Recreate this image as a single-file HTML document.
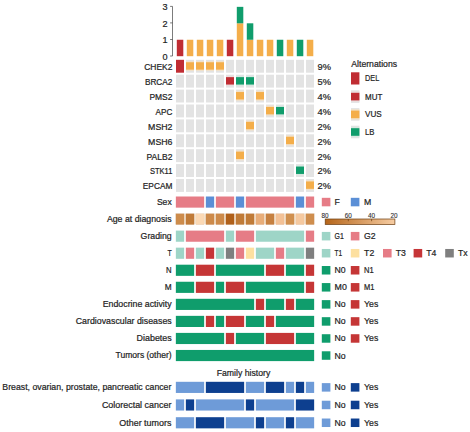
<!DOCTYPE html>
<html><head><meta charset="utf-8"><title>Oncoplot</title>
<style>
html,body{margin:0;padding:0;background:#fff;}
svg{display:block;font-family:"Liberation Sans",sans-serif;}
text{stroke:#1f1f1f;stroke-width:0.22px;}
</style></head>
<body>
<svg width="470" height="432" viewBox="0 0 470 432">
<rect x="0" y="0" width="470" height="432" fill="#ffffff"/>
<rect x="176.80" y="39.75" width="6.50" height="16.45" fill="#c02d33"/>
<rect x="186.80" y="39.75" width="6.50" height="16.45" fill="#f4ae4a"/>
<rect x="196.80" y="39.75" width="6.50" height="16.45" fill="#f4ae4a"/>
<rect x="206.80" y="39.75" width="6.50" height="16.45" fill="#f4ae4a"/>
<rect x="216.80" y="39.75" width="6.50" height="16.45" fill="#f4ae4a"/>
<rect x="226.80" y="39.75" width="6.50" height="16.45" fill="#c02d33"/>
<rect x="236.80" y="23.30" width="6.50" height="32.90" fill="#f4ae4a"/>
<rect x="236.80" y="6.85" width="6.50" height="16.45" fill="#109d6c"/>
<rect x="246.80" y="39.75" width="6.50" height="16.45" fill="#f4ae4a"/>
<rect x="246.80" y="23.30" width="6.50" height="16.45" fill="#109d6c"/>
<rect x="256.80" y="39.75" width="6.50" height="16.45" fill="#f4ae4a"/>
<rect x="266.80" y="39.75" width="6.50" height="16.45" fill="#f4ae4a"/>
<rect x="276.80" y="39.75" width="6.50" height="16.45" fill="#109d6c"/>
<rect x="286.80" y="39.75" width="6.50" height="16.45" fill="#f4ae4a"/>
<rect x="296.80" y="39.75" width="6.50" height="16.45" fill="#109d6c"/>
<rect x="306.80" y="39.75" width="6.50" height="16.45" fill="#f4ae4a"/>
<path d="M170.1,56.0 H172.5 V6.4 H170.1 M170.1,39.5 H172.5 M170.1,22.9 H172.5" fill="none" stroke="#444" stroke-width="0.7"/>
<text x="167.60" y="59.95" font-size="9.1" text-anchor="end" fill="#1f1f1f">0</text>
<text x="167.60" y="43.32" font-size="9.1" text-anchor="end" fill="#1f1f1f">1</text>
<text x="167.60" y="26.69" font-size="9.1" text-anchor="end" fill="#1f1f1f">2</text>
<text x="167.60" y="10.06" font-size="9.1" text-anchor="end" fill="#1f1f1f">3</text>
<rect x="176.00" y="59.80" width="8.00" height="12.90" fill="#c02d33"/>
<rect x="186.00" y="59.80" width="8.00" height="12.90" fill="#e3e3e3"/>
<rect x="186.00" y="60.95" width="8.00" height="10.00" fill="#f2e1c8"/>
<rect x="186.00" y="62.25" width="8.00" height="7.40" fill="#f4ae4a"/>
<rect x="196.00" y="59.80" width="8.00" height="12.90" fill="#e3e3e3"/>
<rect x="196.00" y="60.95" width="8.00" height="10.00" fill="#f2e1c8"/>
<rect x="196.00" y="62.25" width="8.00" height="7.40" fill="#f4ae4a"/>
<rect x="206.00" y="59.80" width="8.00" height="12.90" fill="#e3e3e3"/>
<rect x="206.00" y="60.95" width="8.00" height="10.00" fill="#f2e1c8"/>
<rect x="206.00" y="62.25" width="8.00" height="7.40" fill="#f4ae4a"/>
<rect x="216.00" y="59.80" width="8.00" height="12.90" fill="#e3e3e3"/>
<rect x="216.00" y="60.95" width="8.00" height="10.00" fill="#f2e1c8"/>
<rect x="216.00" y="62.25" width="8.00" height="7.40" fill="#f4ae4a"/>
<rect x="226.00" y="59.80" width="8.00" height="12.90" fill="#e3e3e3"/>
<rect x="236.00" y="59.80" width="8.00" height="12.90" fill="#e3e3e3"/>
<rect x="246.00" y="59.80" width="8.00" height="12.90" fill="#e3e3e3"/>
<rect x="256.00" y="59.80" width="8.00" height="12.90" fill="#e3e3e3"/>
<rect x="266.00" y="59.80" width="8.00" height="12.90" fill="#e3e3e3"/>
<rect x="276.00" y="59.80" width="8.00" height="12.90" fill="#e3e3e3"/>
<rect x="286.00" y="59.80" width="8.00" height="12.90" fill="#e3e3e3"/>
<rect x="296.00" y="59.80" width="8.00" height="12.90" fill="#e3e3e3"/>
<rect x="306.00" y="59.80" width="8.00" height="12.90" fill="#e3e3e3"/>
<text x="172.40" y="70.10" font-size="8.7" text-anchor="end" fill="#1f1f1f" textLength="28.20" lengthAdjust="spacingAndGlyphs">CHEK2</text>
<text x="317.60" y="70.15" font-size="9.3" text-anchor="start" fill="#1f1f1f">9%</text>
<rect x="176.00" y="74.70" width="8.00" height="12.90" fill="#e3e3e3"/>
<rect x="186.00" y="74.70" width="8.00" height="12.90" fill="#e3e3e3"/>
<rect x="196.00" y="74.70" width="8.00" height="12.90" fill="#e3e3e3"/>
<rect x="206.00" y="74.70" width="8.00" height="12.90" fill="#e3e3e3"/>
<rect x="216.00" y="74.70" width="8.00" height="12.90" fill="#e3e3e3"/>
<rect x="226.00" y="74.70" width="8.00" height="12.90" fill="#e3e3e3"/>
<rect x="226.00" y="75.85" width="8.00" height="10.00" fill="#ecdcdc"/>
<rect x="226.00" y="77.15" width="8.00" height="7.40" fill="#c02d33"/>
<rect x="236.00" y="74.70" width="8.00" height="12.90" fill="#e3e3e3"/>
<rect x="236.00" y="75.85" width="8.00" height="10.00" fill="#d6e8e0"/>
<rect x="236.00" y="77.15" width="8.00" height="7.40" fill="#109d6c"/>
<rect x="246.00" y="74.70" width="8.00" height="12.90" fill="#e3e3e3"/>
<rect x="246.00" y="75.85" width="8.00" height="10.00" fill="#d6e8e0"/>
<rect x="246.00" y="77.15" width="8.00" height="7.40" fill="#109d6c"/>
<rect x="256.00" y="74.70" width="8.00" height="12.90" fill="#e3e3e3"/>
<rect x="266.00" y="74.70" width="8.00" height="12.90" fill="#e3e3e3"/>
<rect x="276.00" y="74.70" width="8.00" height="12.90" fill="#e3e3e3"/>
<rect x="286.00" y="74.70" width="8.00" height="12.90" fill="#e3e3e3"/>
<rect x="296.00" y="74.70" width="8.00" height="12.90" fill="#e3e3e3"/>
<rect x="306.00" y="74.70" width="8.00" height="12.90" fill="#e3e3e3"/>
<text x="172.40" y="85.00" font-size="8.7" text-anchor="end" fill="#1f1f1f" textLength="27.50" lengthAdjust="spacingAndGlyphs">BRCA2</text>
<text x="317.60" y="85.05" font-size="9.3" text-anchor="start" fill="#1f1f1f">5%</text>
<rect x="176.00" y="89.60" width="8.00" height="12.90" fill="#e3e3e3"/>
<rect x="186.00" y="89.60" width="8.00" height="12.90" fill="#e3e3e3"/>
<rect x="196.00" y="89.60" width="8.00" height="12.90" fill="#e3e3e3"/>
<rect x="206.00" y="89.60" width="8.00" height="12.90" fill="#e3e3e3"/>
<rect x="216.00" y="89.60" width="8.00" height="12.90" fill="#e3e3e3"/>
<rect x="226.00" y="89.60" width="8.00" height="12.90" fill="#e3e3e3"/>
<rect x="236.00" y="89.60" width="8.00" height="12.90" fill="#e3e3e3"/>
<rect x="236.00" y="90.75" width="8.00" height="10.00" fill="#f2e1c8"/>
<rect x="236.00" y="92.05" width="8.00" height="7.40" fill="#f4ae4a"/>
<rect x="246.00" y="89.60" width="8.00" height="12.90" fill="#e3e3e3"/>
<rect x="256.00" y="89.60" width="8.00" height="12.90" fill="#e3e3e3"/>
<rect x="256.00" y="90.75" width="8.00" height="10.00" fill="#f2e1c8"/>
<rect x="256.00" y="92.05" width="8.00" height="7.40" fill="#f4ae4a"/>
<rect x="266.00" y="89.60" width="8.00" height="12.90" fill="#e3e3e3"/>
<rect x="276.00" y="89.60" width="8.00" height="12.90" fill="#e3e3e3"/>
<rect x="286.00" y="89.60" width="8.00" height="12.90" fill="#e3e3e3"/>
<rect x="296.00" y="89.60" width="8.00" height="12.90" fill="#e3e3e3"/>
<rect x="306.00" y="89.60" width="8.00" height="12.90" fill="#e3e3e3"/>
<text x="172.40" y="99.90" font-size="8.7" text-anchor="end" fill="#1f1f1f" textLength="23.00" lengthAdjust="spacingAndGlyphs">PMS2</text>
<text x="317.60" y="99.95" font-size="9.3" text-anchor="start" fill="#1f1f1f">4%</text>
<rect x="176.00" y="104.50" width="8.00" height="12.90" fill="#e3e3e3"/>
<rect x="186.00" y="104.50" width="8.00" height="12.90" fill="#e3e3e3"/>
<rect x="196.00" y="104.50" width="8.00" height="12.90" fill="#e3e3e3"/>
<rect x="206.00" y="104.50" width="8.00" height="12.90" fill="#e3e3e3"/>
<rect x="216.00" y="104.50" width="8.00" height="12.90" fill="#e3e3e3"/>
<rect x="226.00" y="104.50" width="8.00" height="12.90" fill="#e3e3e3"/>
<rect x="236.00" y="104.50" width="8.00" height="12.90" fill="#e3e3e3"/>
<rect x="246.00" y="104.50" width="8.00" height="12.90" fill="#e3e3e3"/>
<rect x="256.00" y="104.50" width="8.00" height="12.90" fill="#e3e3e3"/>
<rect x="266.00" y="104.50" width="8.00" height="12.90" fill="#e3e3e3"/>
<rect x="266.00" y="105.65" width="8.00" height="10.00" fill="#f2e1c8"/>
<rect x="266.00" y="106.95" width="8.00" height="7.40" fill="#f4ae4a"/>
<rect x="276.00" y="104.50" width="8.00" height="12.90" fill="#e3e3e3"/>
<rect x="276.00" y="105.65" width="8.00" height="10.00" fill="#d6e8e0"/>
<rect x="276.00" y="106.95" width="8.00" height="7.40" fill="#109d6c"/>
<rect x="286.00" y="104.50" width="8.00" height="12.90" fill="#e3e3e3"/>
<rect x="296.00" y="104.50" width="8.00" height="12.90" fill="#e3e3e3"/>
<rect x="306.00" y="104.50" width="8.00" height="12.90" fill="#e3e3e3"/>
<text x="172.40" y="114.80" font-size="8.7" text-anchor="end" fill="#1f1f1f" textLength="16.80" lengthAdjust="spacingAndGlyphs">APC</text>
<text x="317.60" y="114.85" font-size="9.3" text-anchor="start" fill="#1f1f1f">4%</text>
<rect x="176.00" y="119.40" width="8.00" height="12.90" fill="#e3e3e3"/>
<rect x="186.00" y="119.40" width="8.00" height="12.90" fill="#e3e3e3"/>
<rect x="196.00" y="119.40" width="8.00" height="12.90" fill="#e3e3e3"/>
<rect x="206.00" y="119.40" width="8.00" height="12.90" fill="#e3e3e3"/>
<rect x="216.00" y="119.40" width="8.00" height="12.90" fill="#e3e3e3"/>
<rect x="226.00" y="119.40" width="8.00" height="12.90" fill="#e3e3e3"/>
<rect x="236.00" y="119.40" width="8.00" height="12.90" fill="#e3e3e3"/>
<rect x="246.00" y="119.40" width="8.00" height="12.90" fill="#e3e3e3"/>
<rect x="246.00" y="120.55" width="8.00" height="10.00" fill="#f2e1c8"/>
<rect x="246.00" y="121.85" width="8.00" height="7.40" fill="#f4ae4a"/>
<rect x="256.00" y="119.40" width="8.00" height="12.90" fill="#e3e3e3"/>
<rect x="266.00" y="119.40" width="8.00" height="12.90" fill="#e3e3e3"/>
<rect x="276.00" y="119.40" width="8.00" height="12.90" fill="#e3e3e3"/>
<rect x="286.00" y="119.40" width="8.00" height="12.90" fill="#e3e3e3"/>
<rect x="296.00" y="119.40" width="8.00" height="12.90" fill="#e3e3e3"/>
<rect x="306.00" y="119.40" width="8.00" height="12.90" fill="#e3e3e3"/>
<text x="172.40" y="129.70" font-size="8.7" text-anchor="end" fill="#1f1f1f" textLength="24.30" lengthAdjust="spacingAndGlyphs">MSH2</text>
<text x="317.60" y="129.75" font-size="9.3" text-anchor="start" fill="#1f1f1f">2%</text>
<rect x="176.00" y="134.30" width="8.00" height="12.90" fill="#e3e3e3"/>
<rect x="186.00" y="134.30" width="8.00" height="12.90" fill="#e3e3e3"/>
<rect x="196.00" y="134.30" width="8.00" height="12.90" fill="#e3e3e3"/>
<rect x="206.00" y="134.30" width="8.00" height="12.90" fill="#e3e3e3"/>
<rect x="216.00" y="134.30" width="8.00" height="12.90" fill="#e3e3e3"/>
<rect x="226.00" y="134.30" width="8.00" height="12.90" fill="#e3e3e3"/>
<rect x="236.00" y="134.30" width="8.00" height="12.90" fill="#e3e3e3"/>
<rect x="246.00" y="134.30" width="8.00" height="12.90" fill="#e3e3e3"/>
<rect x="256.00" y="134.30" width="8.00" height="12.90" fill="#e3e3e3"/>
<rect x="266.00" y="134.30" width="8.00" height="12.90" fill="#e3e3e3"/>
<rect x="276.00" y="134.30" width="8.00" height="12.90" fill="#e3e3e3"/>
<rect x="286.00" y="134.30" width="8.00" height="12.90" fill="#e3e3e3"/>
<rect x="286.00" y="135.45" width="8.00" height="10.00" fill="#f2e1c8"/>
<rect x="286.00" y="136.75" width="8.00" height="7.40" fill="#f4ae4a"/>
<rect x="296.00" y="134.30" width="8.00" height="12.90" fill="#e3e3e3"/>
<rect x="306.00" y="134.30" width="8.00" height="12.90" fill="#e3e3e3"/>
<text x="172.40" y="144.60" font-size="8.7" text-anchor="end" fill="#1f1f1f" textLength="24.30" lengthAdjust="spacingAndGlyphs">MSH6</text>
<text x="317.60" y="144.65" font-size="9.3" text-anchor="start" fill="#1f1f1f">2%</text>
<rect x="176.00" y="149.20" width="8.00" height="12.90" fill="#e3e3e3"/>
<rect x="186.00" y="149.20" width="8.00" height="12.90" fill="#e3e3e3"/>
<rect x="196.00" y="149.20" width="8.00" height="12.90" fill="#e3e3e3"/>
<rect x="206.00" y="149.20" width="8.00" height="12.90" fill="#e3e3e3"/>
<rect x="216.00" y="149.20" width="8.00" height="12.90" fill="#e3e3e3"/>
<rect x="226.00" y="149.20" width="8.00" height="12.90" fill="#e3e3e3"/>
<rect x="236.00" y="149.20" width="8.00" height="12.90" fill="#e3e3e3"/>
<rect x="236.00" y="150.35" width="8.00" height="10.00" fill="#f2e1c8"/>
<rect x="236.00" y="151.65" width="8.00" height="7.40" fill="#f4ae4a"/>
<rect x="246.00" y="149.20" width="8.00" height="12.90" fill="#e3e3e3"/>
<rect x="256.00" y="149.20" width="8.00" height="12.90" fill="#e3e3e3"/>
<rect x="266.00" y="149.20" width="8.00" height="12.90" fill="#e3e3e3"/>
<rect x="276.00" y="149.20" width="8.00" height="12.90" fill="#e3e3e3"/>
<rect x="286.00" y="149.20" width="8.00" height="12.90" fill="#e3e3e3"/>
<rect x="296.00" y="149.20" width="8.00" height="12.90" fill="#e3e3e3"/>
<rect x="306.00" y="149.20" width="8.00" height="12.90" fill="#e3e3e3"/>
<text x="172.40" y="159.50" font-size="8.7" text-anchor="end" fill="#1f1f1f" textLength="25.90" lengthAdjust="spacingAndGlyphs">PALB2</text>
<text x="317.60" y="159.55" font-size="9.3" text-anchor="start" fill="#1f1f1f">2%</text>
<rect x="176.00" y="164.10" width="8.00" height="12.90" fill="#e3e3e3"/>
<rect x="186.00" y="164.10" width="8.00" height="12.90" fill="#e3e3e3"/>
<rect x="196.00" y="164.10" width="8.00" height="12.90" fill="#e3e3e3"/>
<rect x="206.00" y="164.10" width="8.00" height="12.90" fill="#e3e3e3"/>
<rect x="216.00" y="164.10" width="8.00" height="12.90" fill="#e3e3e3"/>
<rect x="226.00" y="164.10" width="8.00" height="12.90" fill="#e3e3e3"/>
<rect x="236.00" y="164.10" width="8.00" height="12.90" fill="#e3e3e3"/>
<rect x="246.00" y="164.10" width="8.00" height="12.90" fill="#e3e3e3"/>
<rect x="256.00" y="164.10" width="8.00" height="12.90" fill="#e3e3e3"/>
<rect x="266.00" y="164.10" width="8.00" height="12.90" fill="#e3e3e3"/>
<rect x="276.00" y="164.10" width="8.00" height="12.90" fill="#e3e3e3"/>
<rect x="286.00" y="164.10" width="8.00" height="12.90" fill="#e3e3e3"/>
<rect x="296.00" y="164.10" width="8.00" height="12.90" fill="#e3e3e3"/>
<rect x="296.00" y="165.25" width="8.00" height="10.00" fill="#d6e8e0"/>
<rect x="296.00" y="166.55" width="8.00" height="7.40" fill="#109d6c"/>
<rect x="306.00" y="164.10" width="8.00" height="12.90" fill="#e3e3e3"/>
<text x="172.40" y="174.40" font-size="8.7" text-anchor="end" fill="#1f1f1f" textLength="22.40" lengthAdjust="spacingAndGlyphs">STK11</text>
<text x="317.60" y="174.45" font-size="9.3" text-anchor="start" fill="#1f1f1f">2%</text>
<rect x="176.00" y="179.00" width="8.00" height="12.90" fill="#e3e3e3"/>
<rect x="186.00" y="179.00" width="8.00" height="12.90" fill="#e3e3e3"/>
<rect x="196.00" y="179.00" width="8.00" height="12.90" fill="#e3e3e3"/>
<rect x="206.00" y="179.00" width="8.00" height="12.90" fill="#e3e3e3"/>
<rect x="216.00" y="179.00" width="8.00" height="12.90" fill="#e3e3e3"/>
<rect x="226.00" y="179.00" width="8.00" height="12.90" fill="#e3e3e3"/>
<rect x="236.00" y="179.00" width="8.00" height="12.90" fill="#e3e3e3"/>
<rect x="246.00" y="179.00" width="8.00" height="12.90" fill="#e3e3e3"/>
<rect x="256.00" y="179.00" width="8.00" height="12.90" fill="#e3e3e3"/>
<rect x="266.00" y="179.00" width="8.00" height="12.90" fill="#e3e3e3"/>
<rect x="276.00" y="179.00" width="8.00" height="12.90" fill="#e3e3e3"/>
<rect x="286.00" y="179.00" width="8.00" height="12.90" fill="#e3e3e3"/>
<rect x="296.00" y="179.00" width="8.00" height="12.90" fill="#e3e3e3"/>
<rect x="306.00" y="179.00" width="8.00" height="12.90" fill="#e3e3e3"/>
<rect x="306.00" y="180.15" width="8.00" height="10.00" fill="#f2e1c8"/>
<rect x="306.00" y="181.45" width="8.00" height="7.40" fill="#f4ae4a"/>
<text x="172.40" y="189.30" font-size="8.7" text-anchor="end" fill="#1f1f1f" textLength="29.60" lengthAdjust="spacingAndGlyphs">EPCAM</text>
<text x="317.60" y="189.35" font-size="9.3" text-anchor="start" fill="#1f1f1f">2%</text>
<rect x="175.85" y="196.50" width="28.30" height="11.15" fill="#e67c86"/>
<rect x="205.85" y="196.50" width="8.30" height="11.15" fill="#5b8fd6"/>
<rect x="215.85" y="196.50" width="18.30" height="11.15" fill="#e67c86"/>
<rect x="235.85" y="196.50" width="8.30" height="11.15" fill="#5b8fd6"/>
<rect x="245.85" y="196.50" width="48.30" height="11.15" fill="#e67c86"/>
<rect x="295.85" y="196.50" width="8.30" height="11.15" fill="#5b8fd6"/>
<rect x="305.85" y="196.50" width="8.30" height="11.15" fill="#e67c86"/>
<text x="171.70" y="204.88" font-size="8.7" text-anchor="end" fill="#1f1f1f" textLength="14.80" lengthAdjust="spacingAndGlyphs">Sex</text>
<rect x="178.00" y="214.35" width="134.00" height="9.55" fill="#fdf2e4"/>
<rect x="175.80" y="213.65" width="8.40" height="10.95" fill="#cd8c4c" stroke="#7a3c00" stroke-opacity="0.15" stroke-width="0.5"/>
<rect x="185.80" y="213.65" width="8.40" height="10.95" fill="#c07b38" stroke="#7a3c00" stroke-opacity="0.15" stroke-width="0.5"/>
<rect x="195.80" y="213.65" width="8.40" height="10.95" fill="#fbd9b5" stroke="#7a3c00" stroke-opacity="0.15" stroke-width="0.5"/>
<rect x="205.80" y="213.65" width="8.40" height="10.95" fill="#cd8a4a" stroke="#7a3c00" stroke-opacity="0.15" stroke-width="0.5"/>
<rect x="215.80" y="213.65" width="8.40" height="10.95" fill="#cd8a4a" stroke="#7a3c00" stroke-opacity="0.15" stroke-width="0.5"/>
<rect x="225.80" y="213.65" width="8.40" height="10.95" fill="#b0601a" stroke="#7a3c00" stroke-opacity="0.15" stroke-width="0.5"/>
<rect x="235.80" y="213.65" width="8.40" height="10.95" fill="#c07b38" stroke="#7a3c00" stroke-opacity="0.15" stroke-width="0.5"/>
<rect x="245.80" y="213.65" width="8.40" height="10.95" fill="#c07b38" stroke="#7a3c00" stroke-opacity="0.15" stroke-width="0.5"/>
<rect x="255.80" y="213.65" width="8.40" height="10.95" fill="#e8ad79" stroke="#7a3c00" stroke-opacity="0.15" stroke-width="0.5"/>
<rect x="265.80" y="213.65" width="8.40" height="10.95" fill="#c68040" stroke="#7a3c00" stroke-opacity="0.15" stroke-width="0.5"/>
<rect x="275.80" y="213.65" width="8.40" height="10.95" fill="#f3c196" stroke="#7a3c00" stroke-opacity="0.15" stroke-width="0.5"/>
<rect x="285.80" y="213.65" width="8.40" height="10.95" fill="#d0904f" stroke="#7a3c00" stroke-opacity="0.15" stroke-width="0.5"/>
<rect x="295.80" y="213.65" width="8.40" height="10.95" fill="#f5c9a0" stroke="#7a3c00" stroke-opacity="0.15" stroke-width="0.5"/>
<rect x="305.80" y="213.65" width="8.40" height="10.95" fill="#cf8e4e" stroke="#7a3c00" stroke-opacity="0.15" stroke-width="0.5"/>
<text x="171.70" y="221.93" font-size="8.7" text-anchor="end" fill="#1f1f1f" textLength="64.80" lengthAdjust="spacingAndGlyphs">Age at diagnosis</text>
<rect x="175.85" y="230.60" width="8.30" height="11.15" fill="#9ed5c7"/>
<rect x="185.85" y="230.60" width="38.30" height="11.15" fill="#e67c86"/>
<rect x="225.85" y="230.60" width="8.30" height="11.15" fill="#9ed5c7"/>
<rect x="235.85" y="230.60" width="18.30" height="11.15" fill="#e67c86"/>
<rect x="255.85" y="230.60" width="48.30" height="11.15" fill="#9ed5c7"/>
<rect x="305.85" y="230.60" width="8.30" height="11.15" fill="#e67c86"/>
<text x="171.70" y="238.97" font-size="8.7" text-anchor="end" fill="#1f1f1f" textLength="31.10" lengthAdjust="spacingAndGlyphs">Grading</text>
<rect x="175.85" y="247.65" width="8.30" height="11.15" fill="#9ed5c7"/>
<rect x="185.85" y="247.65" width="8.30" height="11.15" fill="#e67c86"/>
<rect x="195.85" y="247.65" width="8.30" height="11.15" fill="#9ed5c7"/>
<rect x="205.85" y="247.65" width="8.30" height="11.15" fill="#c63538"/>
<rect x="215.85" y="247.65" width="8.30" height="11.15" fill="#9ed5c7"/>
<rect x="225.85" y="247.65" width="8.30" height="11.15" fill="#7f7f7f"/>
<rect x="235.85" y="247.65" width="8.30" height="11.15" fill="#e67c86"/>
<rect x="245.85" y="247.65" width="8.30" height="11.15" fill="#fde0a0"/>
<rect x="255.85" y="247.65" width="18.30" height="11.15" fill="#9ed5c7"/>
<rect x="275.85" y="247.65" width="8.30" height="11.15" fill="#e67c86"/>
<rect x="285.85" y="247.65" width="18.30" height="11.15" fill="#9ed5c7"/>
<rect x="305.85" y="247.65" width="8.30" height="11.15" fill="#7f7f7f"/>
<text x="171.70" y="256.02" font-size="8.7" text-anchor="end" fill="#1f1f1f" textLength="4.30" lengthAdjust="spacingAndGlyphs">T</text>
<rect x="175.85" y="264.70" width="18.30" height="11.15" fill="#0f9d6c"/>
<rect x="195.85" y="264.70" width="18.30" height="11.15" fill="#c53636"/>
<rect x="215.85" y="264.70" width="48.30" height="11.15" fill="#0f9d6c"/>
<rect x="265.85" y="264.70" width="18.30" height="11.15" fill="#c53636"/>
<rect x="285.85" y="264.70" width="18.30" height="11.15" fill="#0f9d6c"/>
<rect x="305.85" y="264.70" width="8.30" height="11.15" fill="#c53636"/>
<text x="171.70" y="273.07" font-size="8.7" text-anchor="end" fill="#1f1f1f" textLength="5.60" lengthAdjust="spacingAndGlyphs">N</text>
<rect x="175.85" y="281.75" width="18.30" height="11.15" fill="#0f9d6c"/>
<rect x="195.85" y="281.75" width="18.30" height="11.15" fill="#c53636"/>
<rect x="215.85" y="281.75" width="8.30" height="11.15" fill="#0f9d6c"/>
<rect x="225.85" y="281.75" width="18.30" height="11.15" fill="#c53636"/>
<rect x="245.85" y="281.75" width="58.30" height="11.15" fill="#0f9d6c"/>
<rect x="305.85" y="281.75" width="8.30" height="11.15" fill="#c53636"/>
<text x="171.70" y="290.12" font-size="8.7" text-anchor="end" fill="#1f1f1f" textLength="6.90" lengthAdjust="spacingAndGlyphs">M</text>
<rect x="175.85" y="298.80" width="78.30" height="11.15" fill="#0f9d6c"/>
<rect x="255.85" y="298.80" width="8.30" height="11.15" fill="#c53636"/>
<rect x="265.85" y="298.80" width="18.30" height="11.15" fill="#0f9d6c"/>
<rect x="285.85" y="298.80" width="8.30" height="11.15" fill="#c53636"/>
<rect x="295.85" y="298.80" width="18.30" height="11.15" fill="#0f9d6c"/>
<text x="171.70" y="307.18" font-size="8.7" text-anchor="end" fill="#1f1f1f" textLength="69.00" lengthAdjust="spacingAndGlyphs">Endocrine activity</text>
<rect x="175.85" y="315.85" width="28.30" height="11.15" fill="#0f9d6c"/>
<rect x="205.85" y="315.85" width="8.30" height="11.15" fill="#c53636"/>
<rect x="215.85" y="315.85" width="8.30" height="11.15" fill="#0f9d6c"/>
<rect x="225.85" y="315.85" width="18.30" height="11.15" fill="#c53636"/>
<rect x="245.85" y="315.85" width="18.30" height="11.15" fill="#0f9d6c"/>
<rect x="265.85" y="315.85" width="8.30" height="11.15" fill="#c53636"/>
<rect x="275.85" y="315.85" width="38.30" height="11.15" fill="#0f9d6c"/>
<text x="171.70" y="324.23" font-size="8.7" text-anchor="end" fill="#1f1f1f" textLength="95.95" lengthAdjust="spacingAndGlyphs">Cardiovascular diseases</text>
<rect x="175.85" y="332.90" width="48.30" height="11.15" fill="#0f9d6c"/>
<rect x="225.85" y="332.90" width="8.30" height="11.15" fill="#c53636"/>
<rect x="235.85" y="332.90" width="28.30" height="11.15" fill="#0f9d6c"/>
<rect x="265.85" y="332.90" width="28.30" height="11.15" fill="#c53636"/>
<rect x="295.85" y="332.90" width="18.30" height="11.15" fill="#0f9d6c"/>
<text x="171.70" y="341.27" font-size="8.7" text-anchor="end" fill="#1f1f1f" textLength="35.10" lengthAdjust="spacingAndGlyphs">Diabetes</text>
<rect x="175.85" y="349.95" width="138.30" height="11.15" fill="#0f9d6c"/>
<text x="171.70" y="358.33" font-size="8.7" text-anchor="end" fill="#1f1f1f" textLength="56.20" lengthAdjust="spacingAndGlyphs">Tumors (other)</text>
<rect x="175.85" y="381.80" width="28.30" height="11.15" fill="#6e9bd8"/>
<rect x="205.85" y="381.80" width="38.30" height="11.15" fill="#0d3f8f"/>
<rect x="245.85" y="381.80" width="18.30" height="11.15" fill="#6e9bd8"/>
<rect x="265.85" y="381.80" width="18.30" height="11.15" fill="#0d3f8f"/>
<rect x="285.85" y="381.80" width="8.30" height="11.15" fill="#6e9bd8"/>
<rect x="295.85" y="381.80" width="8.30" height="11.15" fill="#0d3f8f"/>
<rect x="305.85" y="381.80" width="8.30" height="11.15" fill="#6e9bd8"/>
<text x="171.40" y="390.38" font-size="8.7" text-anchor="end" fill="#1f1f1f" textLength="169.10" lengthAdjust="spacingAndGlyphs">Breast, ovarian, prostate, pancreatic cancer</text>
<rect x="175.85" y="399.40" width="8.30" height="11.15" fill="#6e9bd8"/>
<rect x="185.85" y="399.40" width="8.30" height="11.15" fill="#0d3f8f"/>
<rect x="195.85" y="399.40" width="48.30" height="11.15" fill="#6e9bd8"/>
<rect x="245.85" y="399.40" width="8.30" height="11.15" fill="#0d3f8f"/>
<rect x="255.85" y="399.40" width="38.30" height="11.15" fill="#6e9bd8"/>
<rect x="295.85" y="399.40" width="18.30" height="11.15" fill="#0d3f8f"/>
<text x="171.40" y="407.97" font-size="8.7" text-anchor="end" fill="#1f1f1f" textLength="69.50" lengthAdjust="spacingAndGlyphs">Colorectal cancer</text>
<rect x="175.85" y="417.20" width="18.30" height="11.15" fill="#6e9bd8"/>
<rect x="195.85" y="417.20" width="28.30" height="11.15" fill="#0d3f8f"/>
<rect x="225.85" y="417.20" width="28.30" height="11.15" fill="#6e9bd8"/>
<rect x="255.85" y="417.20" width="8.30" height="11.15" fill="#0d3f8f"/>
<rect x="265.85" y="417.20" width="18.30" height="11.15" fill="#6e9bd8"/>
<rect x="285.85" y="417.20" width="8.30" height="11.15" fill="#0d3f8f"/>
<rect x="295.85" y="417.20" width="18.30" height="11.15" fill="#6e9bd8"/>
<text x="171.40" y="425.77" font-size="8.7" text-anchor="end" fill="#1f1f1f" textLength="52.10" lengthAdjust="spacingAndGlyphs">Other tumors</text>
<text x="243.50" y="376.00" font-size="8.7" text-anchor="middle" fill="#1f1f1f">Family history</text>
<text x="351.30" y="67.00" font-size="8.7" text-anchor="start" fill="#1f1f1f" textLength="45.80" lengthAdjust="spacingAndGlyphs">Alternations</text>
<rect x="351.00" y="72.30" width="8.40" height="12.20" fill="#c02d33"/>
<text x="365.00" y="81.40" font-size="8.7" text-anchor="start" fill="#1f1f1f" textLength="14.20" lengthAdjust="spacingAndGlyphs">DEL</text>
<rect x="351.00" y="90.30" width="8.40" height="12.60" fill="#e3e3e3"/>
<rect x="351.00" y="91.40" width="8.40" height="10.40" fill="#ecdcdc"/>
<rect x="351.00" y="92.80" width="8.40" height="7.60" fill="#c02d33"/>
<text x="365.00" y="99.60" font-size="8.7" text-anchor="start" fill="#1f1f1f" textLength="17.30" lengthAdjust="spacingAndGlyphs">MUT</text>
<rect x="351.00" y="108.10" width="8.40" height="12.60" fill="#e3e3e3"/>
<rect x="351.00" y="109.20" width="8.40" height="10.40" fill="#f2e1c8"/>
<rect x="351.00" y="110.60" width="8.40" height="7.60" fill="#f4ae4a"/>
<text x="365.00" y="117.40" font-size="8.7" text-anchor="start" fill="#1f1f1f" textLength="16.70" lengthAdjust="spacingAndGlyphs">VUS</text>
<rect x="351.00" y="125.70" width="8.40" height="12.60" fill="#e3e3e3"/>
<rect x="351.00" y="126.80" width="8.40" height="10.40" fill="#d6e8e0"/>
<rect x="351.00" y="128.20" width="8.40" height="7.60" fill="#109d6c"/>
<text x="365.00" y="135.00" font-size="8.7" text-anchor="start" fill="#1f1f1f" textLength="9.40" lengthAdjust="spacingAndGlyphs">LB</text>
<rect x="321.80" y="197.82" width="8.60" height="8.50" fill="#e67c86"/>
<text x="334.60" y="205.07" font-size="8.7" text-anchor="start" fill="#1f1f1f">F</text>
<rect x="350.80" y="197.82" width="8.60" height="8.50" fill="#5b8fd6"/>
<text x="364.10" y="205.07" font-size="8.7" text-anchor="start" fill="#1f1f1f">M</text>
<rect x="321.80" y="231.92" width="8.60" height="8.50" fill="#9ed5c7"/>
<text x="334.60" y="239.17" font-size="8.7" text-anchor="start" fill="#1f1f1f" textLength="9.25" lengthAdjust="spacingAndGlyphs">G1</text>
<rect x="350.80" y="231.92" width="8.60" height="8.50" fill="#e67c86"/>
<text x="364.10" y="239.17" font-size="8.7" text-anchor="start" fill="#1f1f1f">G2</text>
<rect x="321.80" y="248.97" width="8.60" height="8.50" fill="#9ed5c7"/>
<text x="334.60" y="256.23" font-size="8.7" text-anchor="start" fill="#1f1f1f" textLength="7.60" lengthAdjust="spacingAndGlyphs">T1</text>
<rect x="350.80" y="248.97" width="8.60" height="8.50" fill="#fde0a0"/>
<text x="364.10" y="256.23" font-size="8.7" text-anchor="start" fill="#1f1f1f">T2</text>
<rect x="383.00" y="248.97" width="8.60" height="8.50" fill="#e67c86"/>
<text x="395.70" y="256.23" font-size="8.7" text-anchor="start" fill="#1f1f1f">T3</text>
<rect x="413.60" y="248.97" width="8.60" height="8.50" fill="#c63538"/>
<text x="426.30" y="256.23" font-size="8.7" text-anchor="start" fill="#1f1f1f">T4</text>
<rect x="445.20" y="248.97" width="8.60" height="8.50" fill="#7f7f7f"/>
<text x="457.90" y="256.23" font-size="8.7" text-anchor="start" fill="#1f1f1f">Tx</text>
<rect x="321.80" y="266.02" width="8.60" height="8.50" fill="#0f9d6c"/>
<text x="334.60" y="273.27" font-size="8.7" text-anchor="start" fill="#1f1f1f" textLength="11.10" lengthAdjust="spacingAndGlyphs">N0</text>
<rect x="350.80" y="266.02" width="8.60" height="8.50" fill="#c53636"/>
<text x="364.10" y="273.27" font-size="8.7" text-anchor="start" fill="#1f1f1f" textLength="9.70" lengthAdjust="spacingAndGlyphs">N1</text>
<rect x="321.80" y="283.07" width="8.60" height="8.50" fill="#0f9d6c"/>
<text x="334.60" y="290.32" font-size="8.7" text-anchor="start" fill="#1f1f1f" textLength="12.25" lengthAdjust="spacingAndGlyphs">M0</text>
<rect x="350.80" y="283.07" width="8.60" height="8.50" fill="#c53636"/>
<text x="364.10" y="290.32" font-size="8.7" text-anchor="start" fill="#1f1f1f" textLength="10.40" lengthAdjust="spacingAndGlyphs">M1</text>
<rect x="321.80" y="300.12" width="8.60" height="8.50" fill="#0f9d6c"/>
<text x="334.60" y="307.38" font-size="8.7" text-anchor="start" fill="#1f1f1f">No</text>
<rect x="350.80" y="300.12" width="8.60" height="8.50" fill="#c53636"/>
<text x="364.10" y="307.38" font-size="8.7" text-anchor="start" fill="#1f1f1f">Yes</text>
<rect x="321.80" y="317.18" width="8.60" height="8.50" fill="#0f9d6c"/>
<text x="334.60" y="324.43" font-size="8.7" text-anchor="start" fill="#1f1f1f">No</text>
<rect x="350.80" y="317.18" width="8.60" height="8.50" fill="#c53636"/>
<text x="364.10" y="324.43" font-size="8.7" text-anchor="start" fill="#1f1f1f">Yes</text>
<rect x="321.80" y="334.22" width="8.60" height="8.50" fill="#0f9d6c"/>
<text x="334.60" y="341.47" font-size="8.7" text-anchor="start" fill="#1f1f1f">No</text>
<rect x="350.80" y="334.22" width="8.60" height="8.50" fill="#c53636"/>
<text x="364.10" y="341.47" font-size="8.7" text-anchor="start" fill="#1f1f1f">Yes</text>
<rect x="321.80" y="351.28" width="8.60" height="8.50" fill="#0f9d6c"/>
<text x="334.60" y="358.53" font-size="8.7" text-anchor="start" fill="#1f1f1f">No</text>
<rect x="321.80" y="383.12" width="8.60" height="8.50" fill="#6e9bd8"/>
<text x="334.60" y="390.38" font-size="8.7" text-anchor="start" fill="#1f1f1f">No</text>
<rect x="350.80" y="383.12" width="8.60" height="8.50" fill="#0d3f8f"/>
<text x="364.10" y="390.38" font-size="8.7" text-anchor="start" fill="#1f1f1f">Yes</text>
<rect x="321.80" y="400.72" width="8.60" height="8.50" fill="#6e9bd8"/>
<text x="334.60" y="407.97" font-size="8.7" text-anchor="start" fill="#1f1f1f">No</text>
<rect x="350.80" y="400.72" width="8.60" height="8.50" fill="#0d3f8f"/>
<text x="364.10" y="407.97" font-size="8.7" text-anchor="start" fill="#1f1f1f">Yes</text>
<rect x="321.80" y="418.52" width="8.60" height="8.50" fill="#6e9bd8"/>
<text x="334.60" y="425.77" font-size="8.7" text-anchor="start" fill="#1f1f1f">No</text>
<rect x="350.80" y="418.52" width="8.60" height="8.50" fill="#0d3f8f"/>
<text x="364.10" y="425.77" font-size="8.7" text-anchor="start" fill="#1f1f1f">Yes</text>
<defs><linearGradient id="ag" x1="0" x2="1" y1="0" y2="0"><stop offset="0" stop-color="#b5651a"/><stop offset="1" stop-color="#f7cda3"/></linearGradient></defs>
<rect x="325.2" y="219.0" width="69.7" height="5.5" fill="url(#ag)" stroke="#6b3d10" stroke-width="0.7"/>
<text x="325.00" y="218.20" font-size="6.4" text-anchor="middle" fill="#333" style="stroke-width:0.1px">80</text>
<text x="348.30" y="218.20" font-size="6.4" text-anchor="middle" fill="#333" style="stroke-width:0.1px">60</text>
<text x="371.60" y="218.20" font-size="6.4" text-anchor="middle" fill="#333" style="stroke-width:0.1px">40</text>
<text x="394.00" y="218.20" font-size="6.4" text-anchor="middle" fill="#333" style="stroke-width:0.1px">20</text>
<path d="M348.3,219.0 v2.2 M371.6,219.0 v2.2" stroke="#6b3d10" stroke-width="0.7" fill="none"/>
</svg>
</body></html>
